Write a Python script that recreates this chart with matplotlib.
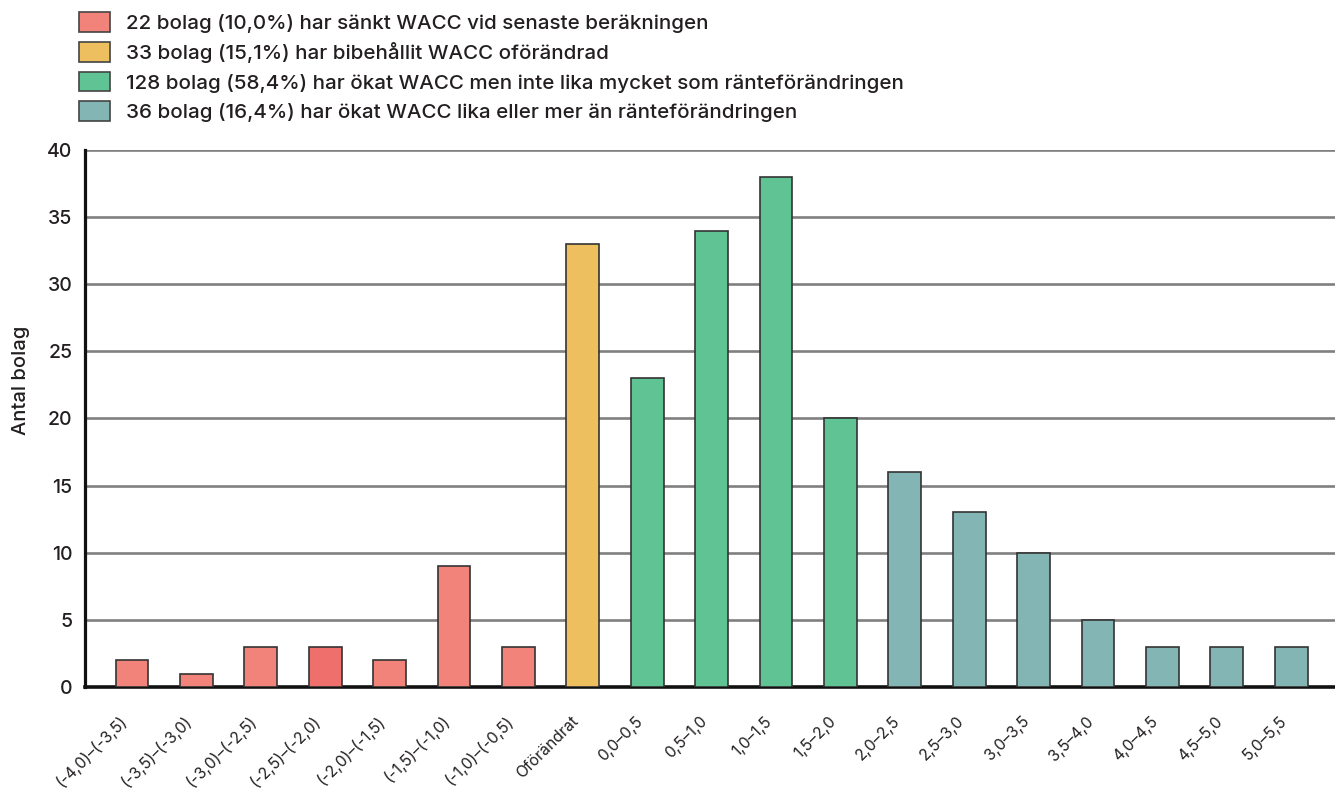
import matplotlib
matplotlib.use("Agg")
import matplotlib.pyplot as plt
from matplotlib.patches import Patch
from matplotlib.transforms import ScaledTranslation

plt.rcParams['font.family'] = ['Inter', 'DejaVu Sans']

categories = ["(-4,0)–(-3,5)", "(-3,5)–(-3,0)", "(-3,0)–(-2,5)", "(-2,5)–(-2,0)",
              "(-2,0)–(-1,5)", "(-1,5)–(-1,0)", "(-1,0)–(-0,5)", "Oförändrat",
              "0,0–0,5", "0,5–1,0", "1,0–1,5", "1,5–2,0", "2,0–2,5", "2,5–3,0",
              "3,0–3,5", "3,5–4,0", "4,0–4,5", "4,5–5,0", "5,0–5,5"]
values = [2, 1, 3, 3, 2, 9, 3, 33, 23, 34, 38, 20, 16, 13, 10, 5, 3, 3, 3]
groups = [0, 0, 0, 0, 0, 0, 0, 1, 2, 2, 2, 2, 3, 3, 3, 3, 3, 3, 3]

legend_labels = [
    "22 bolag (10,0%) har sänkt WACC vid senaste beräkningen",
    "33 bolag (15,1%) har bibehållit WACC oförändrad",
    "128 bolag (58,4%) har ökat WACC men inte lika mycket som ränteförändringen",
    "36 bolag (16,4%) har ökat WACC lika eller mer än ränteförändringen",
]
group_colors = ["#F2837B", "#EDBF5F", "#5FC394", "#84B5B5"]
y_ticks = [0, 5, 10, 15, 20, 25, 30, 35, 40]

fig = plt.figure(figsize=(13.35, 7.92), dpi=100)
ax = fig.add_axes([0.0637, 0.1326, 0.9363, 0.678])

text_color = "#231F20"
bar_colors = [group_colors[g] for g in groups]
bar_colors[3] = "#EF6F6C"
x = list(range(len(categories)))
ax.bar(x, values, width=0.51, color=bar_colors, edgecolor="#333333",
       linewidth=1.2, zorder=3)

ax.set_xlim(-0.73, 18.68)
ax.set_ylim(0, 40)
ax.set_yticks(y_ticks)
ax.set_yticklabels([str(t) for t in y_ticks], fontsize=14, color=text_color,
                   fontweight="medium")
ax.yaxis.grid(True, color="#808080", linewidth=1.9, zorder=0)
ax.set_axisbelow(True)
ax.tick_params(axis="y", length=0, pad=9)

ax.set_xticks(x)
ax.set_xticklabels(categories, rotation=45, ha="right", va="center",
                   rotation_mode="anchor", fontsize=11.3, color=text_color)
ax.tick_params(axis="x", length=0, pad=23)
shift = ScaledTranslation(-7 / 100, 0, fig.dpi_scale_trans)
for lbl in ax.get_xticklabels():
    lbl.set_transform(lbl.get_transform() + shift)

for side in ["top", "right"]:
    ax.spines[side].set_visible(False)
ax.spines["left"].set_linewidth(2.3)
ax.spines["bottom"].set_linewidth(2.6)
ax.spines["left"].set_color("#111111")
ax.spines["bottom"].set_color("#111111")

ax.set_ylabel("Antal bolag", fontsize=14.5, color=text_color, fontweight="medium")
ax.yaxis.set_label_coords(-0.044, 0.572)

handles = [Patch(facecolor=c, edgecolor="#444444", linewidth=1.2) for c in group_colors]
fig.legend(handles, legend_labels, loc="upper left", bbox_to_anchor=(0.045, 1.008),
           frameon=False, handlelength=1.55, handleheight=1.1,
           handletextpad=0.75, labelspacing=0.43, labelcolor=text_color,
           prop={"weight": "medium", "size": 14.8})

fig.savefig("out.png", dpi=100)
